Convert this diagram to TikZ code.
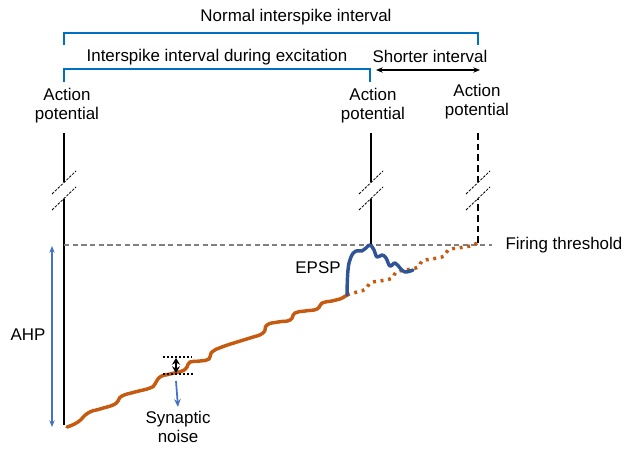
\documentclass[tikz,border=0pt]{standalone}
\usepackage{fontspec}
\setmainfont{Liberation Sans}
\usetikzlibrary{arrows.meta, positioning}
\definecolor{brkblue}{HTML}{0070C0}
\definecolor{ahpblue}{HTML}{4472C4}
\definecolor{epspblue}{HTML}{2F5597}
\definecolor{vmorange}{HTML}{C55A11}
\tikzstyle{lbl} = [align=center, inner sep=0pt, font=\fontsize{12.7}{14.3}\selectfont]
\tikzstyle{bracket} = [draw=brkblue, line width=1.5pt]
\tikzstyle{apline} = [draw=black, line width=1.3pt]
\tikzstyle{brk} = [black, line width=0.6pt, dash pattern=on 2pt off 1pt]
\tikzstyle{arrow} = [line width=1.1pt, {Stealth[length=5pt,width=4pt]}-{Stealth[length=5pt,width=4pt]}]
\tikzstyle{vm} = [draw=vmorange, line width=2.6pt, line join=round, line cap=round]

\begin{document}
\begin{tikzpicture}[x=0.75pt, y=-0.75pt]
    \useasboundingbox (0,0) rectangle (624,450);
    \tikzstyle{epsp} = [draw=epspblue, line width=2.6pt, line join=round, line cap=round]

    % interval labels and brackets
    \node (normal) [lbl] at (296,17) {Normal interspike interval};
    \node (during) [lbl] at (217,57) {Interspike interval during excitation};
    \node (shorter) [lbl] at (430,56) {Shorter interval};
    \draw [bracket] (64,45) -- (64,33) -- (478,33) -- (478,45);
    \draw [bracket] (64,82) -- (64,69) -- (370,69) -- (370,82);
    \coordinate (shortL) at (376,70);
    \coordinate (shortR) at (480,70);
    \draw [arrow] (shortL) -- (shortR);

    % action potentials
    \node (ap1) [lbl] at (67,106) {Action\\potential};
    \node (ap2) [lbl] at (373,106) {Action\\potential};
    \node (ap3) [lbl] at (477,102) {Action\\potential};
    \coordinate (ap1top) at (64,133);
    \coordinate (ap1bot) at (64,425);
    \coordinate (ap2top) at (371,133);
    \coordinate (ap2bot) at (371,245);
    \coordinate (ap3top) at (478,133);
    \coordinate (ap3bot) at (478,243);
    \draw [apline] (ap1top) -- ++(0,49) (ap1bot) -- ++(0,-226);
    \draw [apline] (ap2top) -- ++(0,49) (ap2bot) -- ++(0,-46);
    \draw [apline, dash pattern=on 5pt off 3pt] (ap3top) -- ++(0,49) (ap3bot) -- ++(0,-44);
    \foreach \x in {64,371,478} {
        \draw [brk] (\x-12,194) -- (\x+12,171);
        \draw [brk] (\x-12,210) -- (\x+12,187);
    }

    % threshold
    \coordinate (thrL) at (64,245);
    \coordinate (thrR) at (492,245);
    \draw [gray, line width=0.9pt, dash pattern=on 4pt off 2.5pt] (thrL) -- (thrR);
    \node (thr) [lbl, anchor=west, right=10pt of thrR] {Firing threshold};

    % AHP
    \coordinate (ahpTop) at (52,246);
    \coordinate (ahpBot) at (52,427);
    \draw [arrow, ahpblue] (ahpTop) -- (ahpBot);
    \node (ahp) [lbl] at (28,335) {AHP};

    % membrane potential
    \draw [vm] plot[smooth, tension=0.85] coordinates {(67,427) (78,422) (88,413) (100,409) (113,405)
        (118,401) (122,396) (135,392) (150,388) (155,384) (160,377) (170,374) (182,371) (187,367)
        (190,362) (200,361) (209,359) (212,352) (222,347) (237,342) (250,338) (263,333) (267,325)
        (278,322) (290,320) (295,313) (305,311) (317,309) (322,303) (332,301) (340,299) (347,295)};
    \draw [vm, line cap=butt, dash pattern=on 2.2pt off 3.5pt] plot[smooth, tension=0.85] coordinates {(347,295)
        (357,292) (366,289) (370,283) (380,281) (392,278) (396,272) (406,270) (418,267) (422,261)
        (432,259) (444,256) (448,250) (458,248) (470,246) (477,243)};
    \draw [epsp] plot[smooth, tension=0.7] coordinates {(347,295) (348,270) (351,257) (356,251)
        (362,251) (366,248) (370,245) (374,250) (377,257) (382,255) (386,258) (390,266) (395,263)
        (400,268) (405,272) (413,270)};
    \node (epsplbl) [lbl] at (318,268) {EPSP};

    % synaptic noise
    \draw [black, line width=1.5pt, dash pattern=on 1.5pt off 1.5pt] (163,357) -- (192,357);
    \draw [black, line width=1.5pt, dash pattern=on 1.5pt off 1.5pt] (163,374) -- (195,374);
    \coordinate (noiseTop) at (176,358);
    \coordinate (noiseBot) at (176,373);
    \draw [line width=1pt, {Stealth[length=5pt,width=6pt]}-{Stealth[length=5pt,width=6pt]}] (noiseTop) -- (noiseBot);
    \coordinate (noiseArr) at (176,381);
    \node (noise) [lbl] at (178,427) {Synaptic\\noise};
    \draw [ahpblue, line width=1.3pt, -{Stealth[length=6pt,width=5pt]}] (noiseArr) -- ([yshift=3pt]noise.north);
\end{tikzpicture}
\end{document}
